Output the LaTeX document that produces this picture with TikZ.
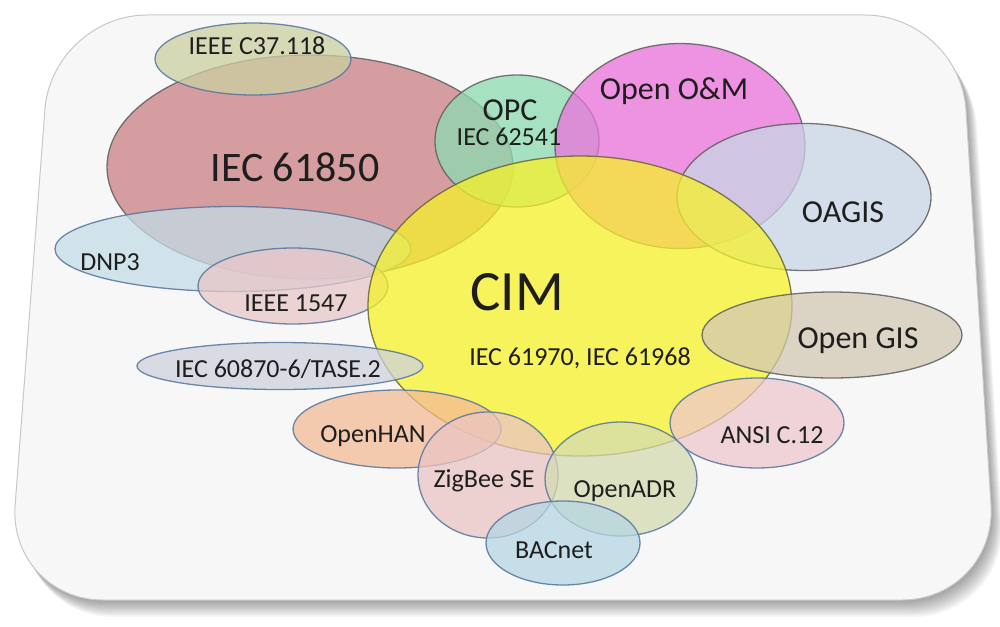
\documentclass[tikz,border=0pt]{standalone}
\usepackage{fontspec}
\setmainfont{Carlito}
\usetikzlibrary{shapes.geometric}
\definecolor{cFrame}{HTML}{F7F7F7}
\definecolor{cFrameLine}{HTML}{C8C8C8}
\definecolor{cBlueLine}{HTML}{55759E}
\definecolor{cDarkLine}{HTML}{5E5E5E}
\definecolor{cOliveLine}{HTML}{66652E}
\definecolor{cTxt}{HTML}{1E1E1E}
\definecolor{cCIM}{RGB}{247,242,40}
\definecolor{cRed}{RGB}{204,128,131}
\definecolor{cMag}{RGB}{235,114,220}
\definecolor{cOPC}{RGB}{139,219,176}
\definecolor{cC37}{RGB}{203,208,160}
\definecolor{cDNP}{RGB}{195,219,230}
\definecolor{cPinkA}{RGB}{232,198,200}
\definecolor{cOAG}{RGB}{200,214,230}
\definecolor{cGIS}{RGB}{210,200,179}
\definecolor{cANSI}{RGB}{238,200,203}
\definecolor{cTASE}{RGB}{206,210,222}
\definecolor{cHAN}{RGB}{243,188,150}
\definecolor{cZig}{RGB}{234,196,196}
\definecolor{cADR}{RGB}{212,219,176}
\definecolor{cBAC}{RGB}{182,214,227}
\begin{document}
\begin{tikzpicture}[x=1pt,y=-1pt,
  blob/.style={ellipse, inner sep=0pt, outer sep=0pt, fill opacity=0.75, line width=1.3pt, draw opacity=0.85},
  bl/.style={blob, draw=cBlueLine},
  dk/.style={blob, draw=cDarkLine},
  lab/.style={text=cTxt, inner sep=0pt, anchor=center},
  small/.style={lab, font=\fontsize{26}{30}\selectfont},
  mid/.style={lab, font=\fontsize{32}{36}\selectfont},
  framepath/.style={rounded corners=95pt}]
\useasboundingbox (0,0) rectangle (1000,626);
\fill[white] (0,0) rectangle (1000,626);
% shadow
\foreach \i in {1,...,10}{
  \fill[black, opacity=0.04, framepath, shift={(\i*1.1,\i*1.7)}]
    (52,15) -- (960,15) -- (997,600) -- (8,600) -- cycle;
}
% frame
\path[framepath, fill=cFrame, draw=cFrameLine, line width=1pt]
  (52,15) -- (960,15) -- (997,600) -- (8,600) -- cycle;
% ellipses
\node[dk, fill=cRed,  minimum width=406pt, minimum height=224pt] (e61850) at (310,167) {};
\node[bl, fill=cC37,  minimum width=196pt, minimum height=72pt]  (c37)    at (253,59)  {};
\node[bl, fill=cDNP,  minimum width=356pt, minimum height=85pt]  (dnp)    at (233,249) {};
\node[bl, fill=cPinkA,minimum width=190pt, minimum height=76pt]  (e1547)  at (293,286) {};
\node[dk, fill=cOPC,  minimum width=164pt, minimum height=132pt] (opc)    at (517,141) {};
\node[dk, fill=cMag,  minimum width=250pt, minimum height=205pt] (oam)    at (680,146) {};
\node[dk, fill=cOAG,  minimum width=254pt, minimum height=147pt] (oagis)  at (804,197) {};
\node[blob, draw=cOliveLine, fill=cCIM, minimum width=424pt, minimum height=300pt, fill opacity=0.74] (cim) at (580,306) {};
\node[dk, fill=cGIS,  minimum width=260pt, minimum height=86pt]  (gis)    at (832,335) {};
\node[bl, fill=cANSI, minimum width=174pt, minimum height=90pt]  (ansi)   at (757,423) {};
\node[bl, fill=cTASE, minimum width=286pt, minimum height=47pt]  (tase)   at (280,366) {};
\node[bl, fill=cHAN,  minimum width=208pt, minimum height=78pt]  (han)    at (397,429) {};
\node[bl, fill=cZig,  minimum width=140pt, minimum height=126pt] (zig)    at (488,475) {};
\node[bl, fill=cADR,  minimum width=152pt, minimum height=114pt] (adr)    at (621,479) {};
\node[bl, fill=cBAC,  minimum width=154pt, minimum height=84pt]  (bac)    at (563,543) {};
% labels
\node[lab, font=\fontsize{42}{46}\selectfont] (t61850) at (295,167) {IEC 61850};
\node[small] (tc37) at (257,46) {IEEE C37.118};
\node[small] (tdnp) at (110,262) {DNP3};
\node[small] (t1547) at (296,303) {IEEE 1547};
\node[mid] (topc) at (510,110) {OPC};
\node[small] (t62541) at (509,137) {IEC 62541};
\node[mid] (toam) at (674,91) {Open O\&M};
\node[mid] (toagis) at (843,212) {OAGIS};
\node[lab, font=\fontsize{57}{62}\selectfont] (tcim) at (517,292) {CIM};
\node[small] (t61970) at (580,358) {IEC 61970, IEC 61968};
\node[mid] (tgis) at (858,341) {Open GIS};
\node[small] (tansi) at (772,435) {ANSI C.12};
\node[small] (ttase) at (278,369) {IEC 60870-6/TASE.2};
\node[small] (than) at (373,436) {OpenHAN};
\node[small] (tzig) at (484,481) {ZigBee SE};
\node[small] (tadr) at (625,491) {OpenADR};
\node[small] (tbac) at (554,550) {BACnet};
\end{tikzpicture}
\end{document}
